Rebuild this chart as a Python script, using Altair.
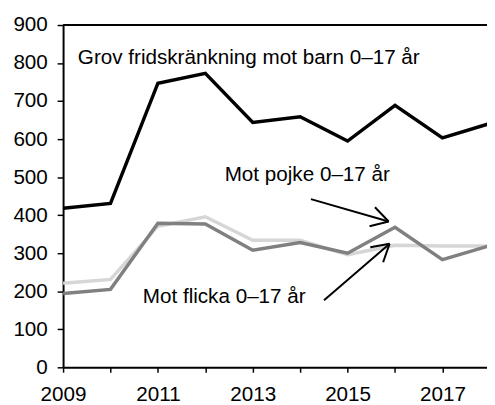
import altair as alt
import pandas as pd
import numpy as np

# ---- data ----
years = [2009, 2010, 2011, 2012, 2013, 2014, 2015, 2016, 2017, 2018]
total = [418, 431, 747, 773, 644, 659, 595, 689, 603, 641]
pojke = [194, 205, 379, 377, 308, 328, 300, 368, 283, 320]
flicka = [221, 231, 371, 396, 334, 334, 296, 321, 319, 319]
y_ticks = [0, 100, 200, 300, 400, 500, 600, 700, 800, 900]
x_ticks = [2009, 2010, 2011, 2012, 2013, 2014, 2015, 2016, 2017]

title_text = "Grov fridskränkning mot barn 0–17 år"
pojke_text = "Mot pojke 0–17 år"
flicka_text = "Mot flicka 0–17 år"

FONT = "Liberation Sans"
FS = 21
W, H = 431, 348

df = pd.DataFrame({"year": years, "total": total, "pojke": pojke, "flicka": flicka})

xscale = alt.Scale(domain=[2009, 2017.94], nice=False, zero=False)
yscale = alt.Scale(domain=[0, 900], nice=False, zero=True)

xaxis = alt.Axis(values=x_ticks, format="d",
                 labelExpr="datum.value % 2 == 1 ? datum.label : ''",
                 title=None, grid=False, tickSize=5, tickWidth=1.5, tickColor="black",
                 domainColor="black", domainWidth=2, labelFont=FONT, labelFontSize=FS,
                 labelColor="black", labelPadding=11.5, labelFlush=False, labelOverlap=False)
yaxis = alt.Axis(values=y_ticks, title=None, grid=False, tickSize=6, tickWidth=1.5,
                 tickColor="black", domainColor="black", domainWidth=2, labelFont=FONT,
                 labelFontSize=FS, labelColor="black", labelPadding=10,
                 labelOverlap=False, labelFlush=False)

base = alt.Chart(df)


def series(col, color, width):
    return base.mark_line(color=color, strokeWidth=width, clip=True).encode(
        x=alt.X("year:Q", scale=xscale, axis=xaxis),
        y=alt.Y(f"{col}:Q", scale=yscale, axis=yaxis),
    )


top_rule = alt.Chart(pd.DataFrame({"d": [0]})).mark_rule(color="black", strokeWidth=2).encode(
    y=alt.datum(900, scale=yscale, axis=yaxis)
)


def label(text, x, y):
    return alt.Chart(pd.DataFrame({"t": [text]})).mark_text(
        align="left", baseline="alphabetic", font=FONT, fontSize=FS, color="black"
    ).encode(text="t:N", x=alt.value(x), y=alt.value(y))


def arrow(x0, y0, x1, y1, head=20, ang=30):
    d = np.array([x1 - x0, y1 - y0], dtype=float)
    d /= np.linalg.norm(d)
    layers = []
    segs = [(x0, y0, x1, y1)]
    for s in (1, -1):
        a = np.deg2rad(ang * s)
        rot = np.array([[np.cos(a), -np.sin(a)], [np.sin(a), np.cos(a)]])
        w = rot @ (-d) * head
        segs.append((x1, y1, x1 + w[0], y1 + w[1]))
    for (a0, b0, a1, b1) in segs:
        layers.append(
            alt.Chart(pd.DataFrame({"d": [0]})).mark_rule(color="black", strokeWidth=2).encode(
                x=alt.value(float(a0)), y=alt.value(float(b0)),
                x2=alt.value(float(a1)), y2=alt.value(float(b1)))
        )
    return layers


layers = [
    series("flicka", "#d6d6d6", 3.5),
    series("pojke", "#808080", 3.5),
    series("total", "#000000", 3.5),
    top_rule,
    label(title_text, 15, 39.7),
    label(pojke_text, 164.3, 158.7),
    label(flicka_text, 81, 283),
]
layers += arrow(252, 177, 331, 199.7)
layers += arrow(265.3, 279.7, 332, 222.3)

chart = alt.layer(*layers).properties(
    width=W, height=H,
    autosize=alt.AutoSizeParams(type="none"),
    padding={"left": 56, "top": 14, "right": 0, "bottom": 35},
    background="white",
).configure_view(stroke=None)

chart.save("out.html", embed_options={"renderer": "svg", "actions": False})
